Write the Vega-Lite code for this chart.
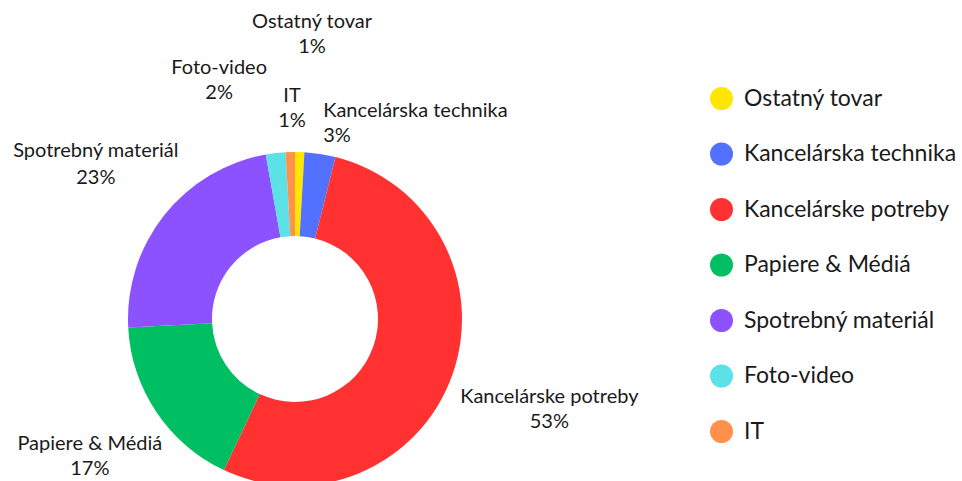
{
  "$schema": "https://vega.github.io/schema/vega-lite/v6.json",
  "width": 590,
  "height": 638,
  "autosize": {"type": "none"},
  "padding": {"left": 0, "top": 0, "right": 372, "bottom": 0},
  "background": "white",
  "config": {"view": {"stroke": null}, "text": {"font": "Lato", "fontSize": 20, "color": "#1a1a1a"}},
  "data": {"values": [
    {"name": "Ostatný tovar", "share": 0.009},
    {"name": "Kancelárska technika", "share": 0.030},
    {"name": "Kancelárske potreby", "share": 0.531},
    {"name": "Papiere & Médiá", "share": 0.172},
    {"name": "Spotrebný materiál", "share": 0.230},
    {"name": "Foto-video", "share": 0.019},
    {"name": "IT", "share": 0.009}
  ]},
  "transform": [{"window": [{"op": "row_number", "as": "rank"}]}],
  "encoding": {
    "theta": {"field": "share", "type": "quantitative", "stack": true},
    "order": {"field": "rank", "type": "quantitative", "sort": "ascending"}
  },
  "layer": [
    {
      "mark": {"type": "arc", "innerRadius": 83, "outerRadius": 167},
      "encoding": {
        "color": {
          "field": "name", "type": "nominal",
          "scale": {
            "domain": ["Ostatný tovar", "Kancelárska technika", "Kancelárske potreby", "Papiere & Médiá", "Spotrebný materiál", "Foto-video", "IT"],
            "range": ["#FFE600", "#5271FF", "#FF3131", "#00BF63", "#8C52FF", "#5CE1E6", "#FF914D"]
          },
          "legend": {
            "orient": "none", "legendX": 710, "legendY": 87, "title": null,
            "symbolType": "circle", "symbolSize": 529, "symbolStrokeWidth": 0, "symbolOpacity": 1,
            "labelFont": "Lato", "labelFontSize": 23, "labelColor": "#1a1a1a",
            "labelOffset": 11, "rowPadding": 31.5, "padding": 0, "labelLimit": 400
          }
        }
      }
    },
    {"mark": {"type": "text", "radius": 270, "dy": -12.5}, "encoding": {"text": {"condition": {"test": "datum.name === 'Kancelárske potreby'", "field": "name"}, "value": ""}}},
    {"mark": {"type": "text", "radius": 270, "dy": 12.5}, "encoding": {"text": {"condition": {"test": "datum.name === 'Kancelárske potreby'", "field": "share", "type": "quantitative", "format": ".0%"}, "value": ""}}},
    {"mark": {"type": "text", "radius": 247, "dy": -12.5}, "encoding": {"text": {"condition": {"test": "datum.name === 'Papiere & Médiá'", "field": "name"}, "value": ""}}},
    {"mark": {"type": "text", "radius": 247, "dy": 12.5}, "encoding": {"text": {"condition": {"test": "datum.name === 'Papiere & Médiá'", "field": "share", "type": "quantitative", "format": ".0%"}, "value": ""}}},
    {"mark": {"type": "text", "radius": 252, "dx": -2, "dy": -11.5}, "encoding": {"text": {"condition": {"test": "datum.name === 'Spotrebný materiál'", "field": "name"}, "value": ""}}},
    {"mark": {"type": "text", "radius": 252, "dx": -2, "dy": 15.5}, "encoding": {"text": {"condition": {"test": "datum.name === 'Spotrebný materiál'", "field": "share", "type": "quantitative", "format": ".0%"}, "value": ""}}},
    {"mark": {"type": "text", "radius": 285, "dx": 9, "dy": -12.5}, "encoding": {"text": {"condition": {"test": "datum.name === 'Ostatný tovar'", "field": "name"}, "value": ""}}},
    {"mark": {"type": "text", "radius": 285, "dx": 9, "dy": 12.5}, "encoding": {"text": {"condition": {"test": "datum.name === 'Ostatný tovar'", "field": "share", "type": "quantitative", "format": ".0%"}, "value": ""}}},
    {"mark": {"type": "text", "radius": 240, "dx": -48, "dy": -12.5}, "encoding": {"text": {"condition": {"test": "datum.name === 'Foto-video'", "field": "name"}, "value": ""}}},
    {"mark": {"type": "text", "radius": 240, "dx": -48, "dy": 12.5}, "encoding": {"text": {"condition": {"test": "datum.name === 'Foto-video'", "field": "share", "type": "quantitative", "format": ".0%"}, "value": ""}}},
    {"mark": {"type": "text", "radius": 211, "dx": 3, "dy": -12.5}, "encoding": {"text": {"condition": {"test": "datum.name === 'IT'", "field": "name"}, "value": ""}}},
    {"mark": {"type": "text", "radius": 211, "dx": 3, "dy": 12.5}, "encoding": {"text": {"condition": {"test": "datum.name === 'IT'", "field": "share", "type": "quantitative", "format": ".0%"}, "value": ""}}},
    {"mark": {"type": "text", "radius": 198, "dx": -1.5, "dy": -12.5, "align": "left"}, "encoding": {"text": {"condition": {"test": "datum.name === 'Kancelárska technika'", "field": "name"}, "value": ""}}},
    {"mark": {"type": "text", "radius": 198, "dx": -1.5, "dy": 12.5, "align": "left"}, "encoding": {"text": {"condition": {"test": "datum.name === 'Kancelárska technika'", "field": "share", "type": "quantitative", "format": ".0%"}, "value": ""}}}
  ]
}
